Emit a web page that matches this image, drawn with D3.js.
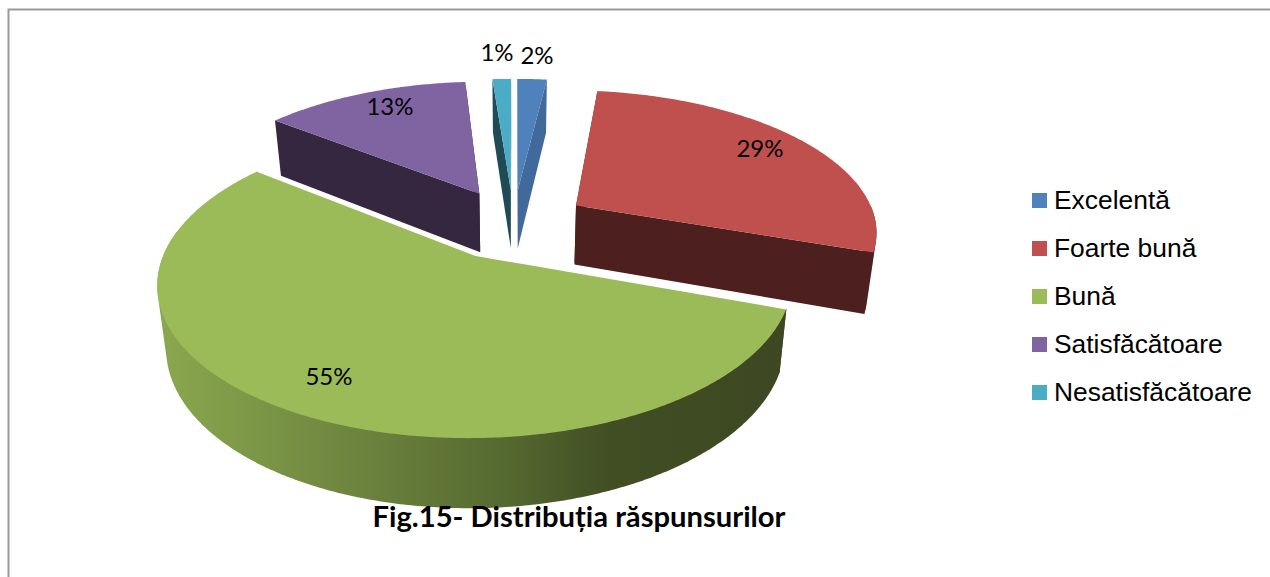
<!DOCTYPE html>
<html><head><meta charset="utf-8">
<script src="https://cdnjs.cloudflare.com/ajax/libs/d3/7.8.5/d3.min.js"></script>
<style>html,body{margin:0;padding:0;background:#fff;overflow:hidden}svg{display:block}
.lg{font-family:"Liberation Sans",Arial,sans-serif}</style>
</head><body><svg id="c" width="1270" height="577"></svg>
<script>
const categories = ["Excelentă","Foarte bună","Bună","Satisfăcătoare","Nesatisfăcătoare"];
const values = [1.9, 28.5, 55.2, 13.2, 1.2];
const percentLabels = ["2%","29%","55%","13%","1%"];
const topColors = ["#4f81bd","#c0504d","#9bbb59","#8064a2","#4bacc6"];
const wallColors = ["#41699c","#4d1f1e","#3f4a22","#35273f","#1f4a56"];
const title = "Fig.15- Distribuția răspunsurilor";

const svg=d3.select("#c");
const cx=513.5, cy=223.5, C=301, B=140, k=0.168, e=0.25, D=60, b=0.975;

const pie=d3.pie().sort(null).value(d=>d);
const arcs=pie(values);

function project(X,Y,bottom){
  const s=1/(1-k*Y), f=bottom?b:1;
  return [cx+C*X*s*f, cy+B*Y*s*f+(bottom?D*s:0)];
}
function pt(d,a,r,bottom){
  const m=(d.startAngle+d.endAngle)/2;
  return project(e*Math.sin(m)+r*Math.sin(a), -e*Math.cos(m)-r*Math.cos(a), bottom);
}
function arcPts(d,a0,a1,bottom){
  const n=Math.max(2,Math.ceil(Math.abs(a1-a0)/0.01));
  return d3.range(n+1).map(i=>pt(d,a0+(a1-a0)*i/n,1,bottom));
}
const line=d3.line();

const defs=svg.append("defs");
const grad=defs.append("linearGradient").attr("id","wall").attr("gradientUnits","userSpaceOnUse")
  .attr("x1",160).attr("x2",785).attr("y1",0).attr("y2",0);
[[0,"#8aa84e"],[0.12,"#7f9a48"],[0.35,"#6a803d"],[0.55,"#556a30"],[0.72,"#414e24"],[1,"#3d4822"]]
  .forEach(s=>grad.append("stop").attr("offset",s[0]).attr("stop-color",s[1]));

svg.append("path").attr("d","M8.5,577V9.5H1270").attr("fill","none").attr("stroke","#9a9a9a").attr("stroke-width",2);

const order=[4,0,3,1,2];
order.forEach(i=>{
  const d=arcs[i], g=svg.append("g");
  const apexT=pt(d,0,0,false), apexB=pt(d,0,0,true);
  [d.startAngle,d.endAngle].forEach(a=>{
    g.append("path").attr("fill",wallColors[i]).attr("d",
      line([apexT,pt(d,a,1,false),pt(d,a,1,true),apexB])+"Z");
  });
  const a0=Math.max(d.startAngle,Math.PI/2), a1=Math.min(d.endAngle,Math.PI*1.55);
  if(a1>a0){
    const hull=d3.polygonHull(arcPts(d,a0,a1,false).concat(arcPts(d,a0,a1,true)));
    g.append("path").attr("fill",i===2?"url(#wall)":wallColors[i]).attr("d",line(hull)+"Z");
  }
  const top=[apexT].concat(arcPts(d,d.startAngle,d.endAngle,false));
  g.append("path").attr("fill",topColors[i]).attr("d",line(top)+"Z");
  if(i===2){
    g.append("path").attr("fill","none").attr("stroke","#fff").attr("stroke-width",1.5)
      .attr("d",line([pt(d,d.endAngle,1,false),apexT,pt(d,d.startAngle,1,false)]));
  }
});

const labelPos=[[537,56],[760,149],[329,377],[390,107],[497,53]];
percentLabels.forEach((t,i)=>{
  svg.append("text").attr("x",labelPos[i][0]).attr("y",labelPos[i][1]).attr("dy","0.35em")
    .attr("text-anchor","middle").attr("font-family","Lato").attr("font-size",24).attr("fill","#000")
    .text(t);
});

const rowY=d3.scalePoint().domain(categories).range([200.5,392.5]);
categories.forEach((c,i)=>{
  svg.append("rect").attr("x",1032).attr("y",rowY(c)-7.5).attr("width",15).attr("height",15).attr("fill",topColors[i]);
  svg.append("text").attr("class","lg").attr("x",1054).attr("y",rowY(c)-1).attr("dy","0.35em")
    .attr("font-size",26.4).attr("fill","#000").text(c);
});

svg.append("text").attr("x",579).attr("y",517).attr("dy","0.35em").attr("text-anchor","middle")
  .attr("font-family","Lato").attr("font-weight",700).attr("font-size",29.2).attr("fill","#000").text(title);
</script></body></html>
